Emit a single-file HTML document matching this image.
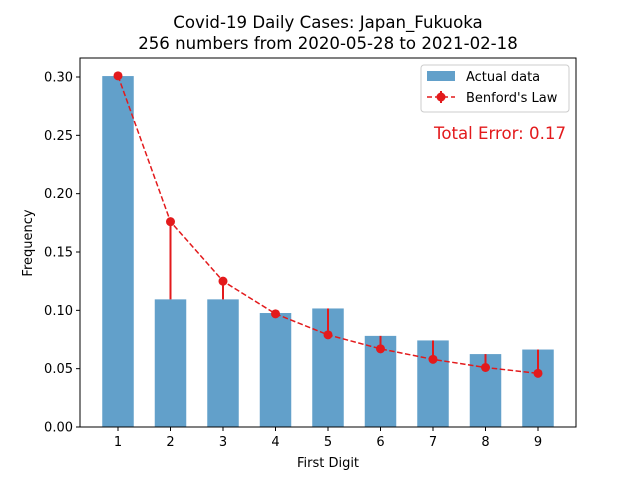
<!DOCTYPE html>
<html><head><meta charset="utf-8"><style>
body{margin:0;background:#fff;font-family:"DejaVu Sans","Liberation Sans",sans-serif;}
svg text{font-family:"DejaVu Sans","Liberation Sans",sans-serif;}
</style></head><body>
<svg id="chart" width="640" height="480" xmlns="http://www.w3.org/2000/svg">
<rect width="640" height="480" fill="#fff"/>
<text x="328" y="28" text-anchor="middle" font-size="16.6">Covid-19 Daily Cases: Japan_Fukuoka</text>
<text x="328" y="49" text-anchor="middle" font-size="16.6">256 numbers from 2020-05-28 to 2021-02-18</text>
<g id="bars"></g><g id="errs"></g><g id="axes"></g>
<text x="328" y="467" text-anchor="middle" font-size="13">First Digit</text>
<text transform="translate(32,243) rotate(-90)" text-anchor="middle" font-size="13">Frequency</text>
<g>
<rect x="421" y="65" width="148" height="47" rx="3" fill="#fff" stroke="#ccc"/>
<rect x="427" y="71" width="28" height="10" fill="#1f77b4" fill-opacity="0.7"/>
<text x="466" y="81" font-size="13">Actual data</text>
<line x1="427" y1="97" x2="455" y2="97" stroke="#e31a1c" stroke-width="1.5" stroke-dasharray="5,3"/>
<line x1="441" y1="91" x2="441" y2="103" stroke="#e31a1c" stroke-width="2"/>
<circle cx="441" cy="97" r="4.5" fill="#e31a1c"/>
<text x="466" y="102" font-size="13">Benford's Law</text>
</g>
<text x="566" y="139" text-anchor="end" font-size="16.6" fill="#e31a1c">Total Error: 0.17</text>
</svg>
<script>
const digits=[1,2,3,4,5,6,7,8,9];
const actual=[0.3008,0.1094,0.1094,0.0977,0.1016,0.0781,0.0742,0.0625,0.0664];
const benford=[0.301,0.176,0.125,0.097,0.079,0.067,0.058,0.051,0.046];
const yTicks=[0,0.05,0.10,0.15,0.20,0.25,0.30];
const NS="http://www.w3.org/2000/svg";
const L=80,R=576,T=58,B=427;
const x=d=>118+(d-1)*52.5;
const y=v=>B-v*(350/0.3);
function mk(t,a,p){const e=document.createElementNS(NS,t);for(const k in a)e.setAttribute(k,a[k]);p.appendChild(e);return e;}
const bars=document.getElementById('bars'),errs=document.getElementById('errs'),axes=document.getElementById('axes');
digits.forEach((d,i)=>{
 const r=mk('rect',{x:x(d)-15.75,y:y(actual[i]),width:31.5,height:B-y(actual[i]),fill:'#1f77b4','fill-opacity':0.7},bars);
 
 
 const l=mk('line',{x1:x(d),x2:x(d),y1:y(actual[i]),y2:y(benford[i]),stroke:'#e31a1c','stroke-width':2},errs);
 
 
});
let pts=digits.map((d,i)=>x(d)+','+y(benford[i])).join(' ');
const pl=mk('polyline',{points:pts,fill:'none',stroke:'#e31a1c','stroke-width':1.5,'stroke-dasharray':'5.5,2.5'},errs);


digits.forEach((d,i)=>{
 const c=mk('circle',{cx:x(d),cy:y(benford[i]),r:4.5,fill:'#e31a1c'},errs);
 
 
});
const fr=mk('rect',{x:L,y:T,width:R-L,height:B-T,fill:'none',stroke:'#000','stroke-width':1},axes);


yTicks.forEach(v=>{
 mk('line',{x1:L-4,x2:L,y1:y(v),y2:y(v),stroke:'#000'},axes);
 const t=mk('text',{x:L-7,y:y(v)+4.5,'text-anchor':'end','font-size':13},axes);
 t.textContent=v.toFixed(2);
 
 
});
digits.forEach(d=>{
 mk('line',{x1:x(d),x2:x(d),y1:B,y2:B+4,stroke:'#000'},axes);
 const t=mk('text',{x:x(d),y:B+19,'text-anchor':'middle','font-size':13},axes);
 t.textContent=d;
 
 
});
</script>
</body></html>
